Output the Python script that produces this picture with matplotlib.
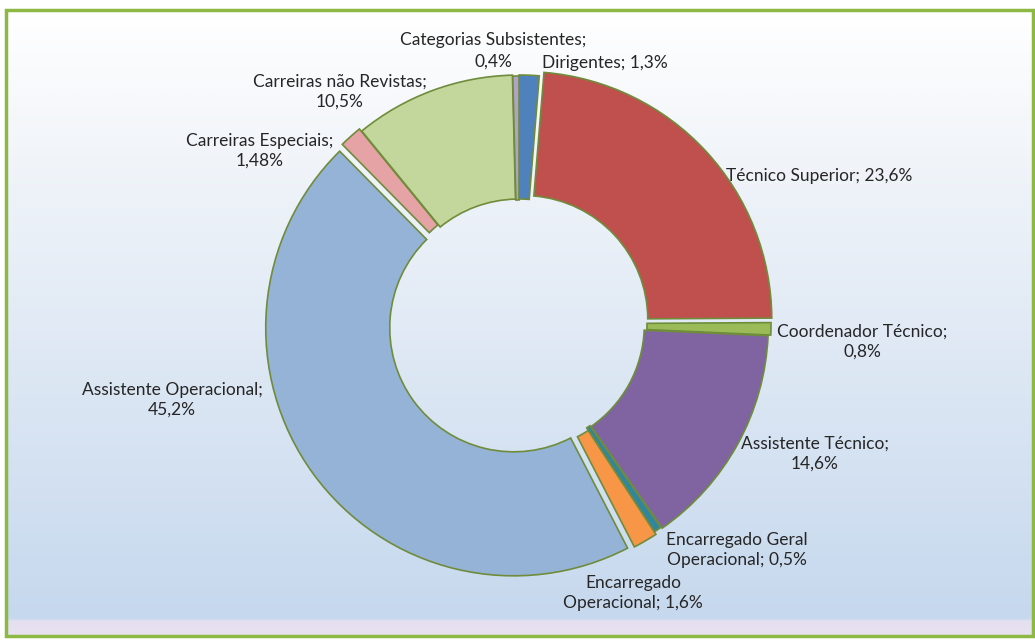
import numpy as np
import matplotlib.pyplot as plt
from matplotlib.colors import LinearSegmentedColormap
from matplotlib.patches import Rectangle

plt.rcParams['font.family'] = ['Lato', 'DejaVu Sans']

# data, clockwise from 12 o'clock
categorias = ["Dirigentes", "Técnico Superior", "Coordenador Técnico", "Assistente Técnico",
              "Encarregado Geral Operacional", "Encarregado Operacional", "Assistente Operacional",
              "Carreiras Especiais", "Carreiras não Revistas", "Categorias Subsistentes"]
percentagens = [1.3, 23.6, 0.8, 14.6, 0.5, 1.6, 45.2, 1.48, 10.5, 0.4]
rotulos = ["Dirigentes; 1,3%", "Técnico Superior; 23,6%", "Coordenador Técnico;\n0,8%",
           "Assistente Técnico;\n14,6%", "Encarregado Geral\nOperacional; 0,5%",
           "Encarregado\nOperacional; 1,6%", "Assistente Operacional;\n45,2%",
           "Carreiras Especiais;\n1,48%", "Carreiras não Revistas;\n10,5%",
           "Categorias Subsistentes;\n0,4%"]
cores = ["#4F81BD", "#C0504D", "#9BBB59", "#8064A2", "#31859C",
         "#F79646", "#95B3D7", "#E6A3A6", "#C3D69B", "#B3A2C7"]
# offsets in pixels (pie explode is in data units, here pixels)
destaque = [1.0, 6.5, 4.0, 1.5, 0.0, 3.0, 6.5, 4.0, 1.0, 0.0]

# label positions in pixels (x, y from top)
pos_rotulos = [(605, 63), (819, 176), (862, 342), (815, 454), (737, 550),
               (633, 593), (172, 400), (260, 151), (340, 92), (493, 51)]

W, H = 1035, 640
fig = plt.figure(figsize=(W / 100, H / 100), dpi=100)

# background gradient
bg = fig.add_axes([0, 0, 1, 1])
bg.set_xlim(0, W)
bg.set_ylim(0, H)
bg.axis('off')
grad = LinearSegmentedColormap.from_list(
    "fundo", [(0, "#FFFFFF"), (0.2, "#F3F6FA"), (0.975, "#C6D8EE"), (0.98, "#E4E0EF"), (1, "#E8E2F0")])
g = np.linspace(0, 1, 600).reshape(-1, 1)
bg.imshow(g, cmap=grad, aspect='auto', extent=[6, 1033, 4, 630], origin='upper', zorder=0)
bg.add_patch(Rectangle((6, 4), 1027, 626, fill=False, edgecolor="#8DB843", linewidth=2.5, zorder=2))

ax = fig.add_axes([0, 0, 1, 1])
ax.patch.set_alpha(0)

cx, cy = 519, H - 324
raio = 248
wedges, _ = ax.pie(percentagens, colors=cores, startangle=90, counterclock=False,
                   center=(cx, cy), radius=raio, explode=destaque,
                   wedgeprops=dict(width=raio * 0.5, edgecolor="#6F8C3B", linewidth=1.2),
                   frame=True)

ax.set_xlim(0, W)
ax.set_ylim(0, H)
ax.set_aspect('equal')
ax.axis('off')

for txt, (x, y) in zip(rotulos, pos_rotulos):
    linhas = txt.split("\n")
    if txt.startswith("Categorias"):
        # two separate lines so the first one clears the Dirigentes label
        ax.text(x, H - y + 11, linhas[0], ha='center', va='center', fontsize=12.5, color="#262626")
        ax.text(x, H - y - 11, linhas[1], ha='center', va='center', fontsize=12.5, color="#262626")
    else:
        ax.text(x, H - y, txt, ha='center', va='center', fontsize=12.5, color="#262626",
                linespacing=1.3)

fig.savefig("out.png", dpi=100)
